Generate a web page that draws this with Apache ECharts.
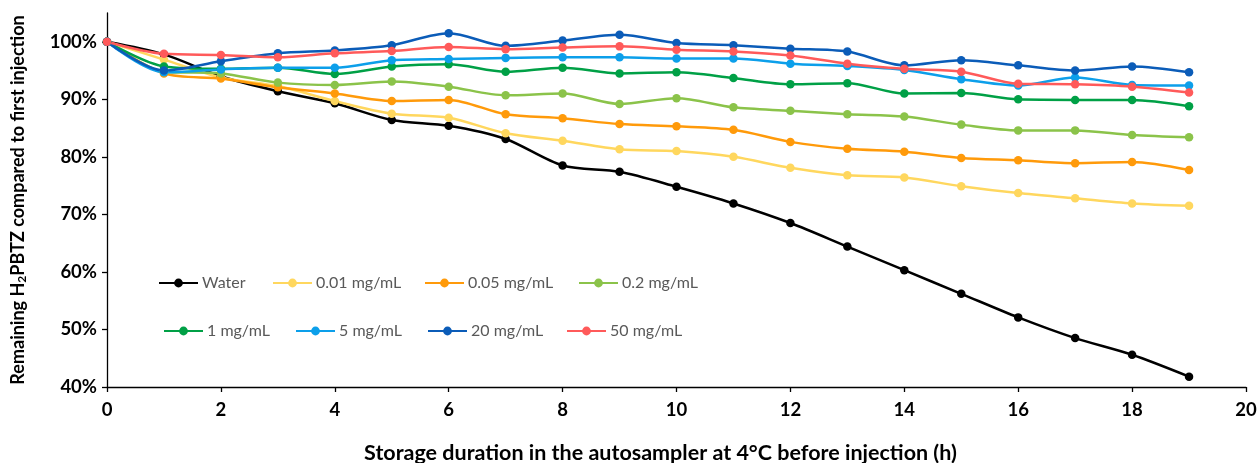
<!DOCTYPE html>
<html>
<head>
<meta charset="utf-8">
<title>H2PBTZ stability</title>
<script src="https://cdn.jsdelivr.net/npm/echarts@6/dist/echarts.min.js"></script>
<style>
  html, body { margin: 0; padding: 0; background: #fff; }
  #chart { width: 1258px; height: 463px; }
</style>
</head>
<body>
<div id="chart"></div>
<script>
// storage time (h)
const hours = [0, 1, 2, 3, 4, 5, 6, 7, 8, 9, 10, 11, 12, 13, 14, 15, 16, 17, 18, 19]

// remaining H2PBTZ (%) per matrix
const water = [100, 97.8, 94.0, 91.4, 89.3, 86.4, 85.4, 83.1, 78.5, 77.4, 74.8, 71.9, 68.5, 64.4, 60.3, 56.2, 52.1, 48.5, 45.6, 41.8]
const c001 = [100, 96.9, 93.8, 92.3, 89.7, 87.5, 86.8, 84.1, 82.8, 81.3, 81.0, 80.0, 78.1, 76.8, 76.4, 74.9, 73.7, 72.8, 71.9, 71.5]
const c005 = [100, 94.5, 93.6, 92.1, 91.0, 89.7, 89.9, 87.4, 86.7, 85.7, 85.3, 84.7, 82.6, 81.4, 80.9, 79.8, 79.4, 78.9, 79.1, 77.7]
const c02 = [100, 94.8, 94.5, 92.9, 92.5, 93.1, 92.2, 90.7, 91.0, 89.2, 90.2, 88.6, 88.0, 87.4, 87.0, 85.6, 84.6, 84.6, 83.8, 83.4]
const c1 = [100, 95.7, 95.3, 95.5, 94.4, 95.7, 96.1, 94.8, 95.5, 94.5, 94.7, 93.7, 92.6, 92.8, 91.0, 91.1, 90.0, 89.9, 89.9, 88.8]
const c5 = [100, 94.7, 95.2, 95.5, 95.5, 96.8, 97.0, 97.2, 97.3, 97.3, 97.1, 97.1, 96.2, 95.8, 95.1, 93.5, 92.4, 93.8, 92.5, 92.4]
const c20 = [100, 95.0, 96.6, 98.0, 98.5, 99.4, 101.5, 99.3, 100.2, 101.2, 99.8, 99.4, 98.8, 98.3, 95.9, 96.8, 95.9, 95.0, 95.7, 94.7]
const c50 = [100, 97.9, 97.7, 97.3, 98.0, 98.4, 99.1, 98.7, 99.0, 99.2, 98.6, 98.3, 97.6, 96.2, 95.3, 94.8, 92.7, 92.6, 92.2, 91.2]

const seriesNames = ['Water', '0.01 mg/mL', '0.05 mg/mL', '0.2 mg/mL', '1 mg/mL', '5 mg/mL', '20 mg/mL', '50 mg/mL']
const seriesValues = [water, c001, c005, c02, c1, c5, c20, c50]

// y tick labels (%)
const yTicks = [40, 50, 60, 70, 80, 90, 100]

const colors = ['#000000', '#FFD75E', '#FF9A0A', '#8BC34A', '#00A046', '#0C9FEA', '#0B5CB8', '#FF5A5A']

// legend sits inside the plot, two rows
const legendSpots = [
  [158, 275], [272, 275], [424, 275], [578, 275],
  [163, 323], [295, 323], [427, 323], [566, 323]
]

const chart = echarts.init(document.getElementById('chart'), null, { renderer: 'canvas' })

const font = 'Lato, "Open Sans", sans-serif'

chart.setOption({
  animation: false,
  color: colors,
  grid: {
    left: 107,
    right: 12,
    top: 13,
    bottom: 76,
    outerBoundsMode: 'none'
  },
  legend: seriesNames.map((name, i) => ({
    data: [name],
    left: legendSpots[i][0],
    top: legendSpots[i][1],
    padding: 0,
    itemWidth: 39,
    itemHeight: 11,
    textStyle: {
      fontFamily: font,
      fontSize: 16,
      color: '#595959',
      padding: [0, 0, 0, -1]
    }
  })),
  xAxis: {
    type: 'value',
    min: 0,
    max: 20,
    interval: 2,
    name: 'Storage duration in the autosampler at 4°C before injection (h)',
    nameLocation: 'middle',
    nameGap: 55,
    nameTextStyle: {
      fontFamily: font,
      fontSize: 21.5,
      fontWeight: 'bold',
      color: '#000',
      padding: [0, 32, 0, 0]
    },
    splitLine: { show: false },
    axisLine: { lineStyle: { color: '#000', width: 1.3 } },
    axisTick: { length: 5, lineStyle: { color: '#000', width: 1.3 } },
    axisLabel: {
      margin: 14,
      fontFamily: font,
      fontSize: 18.5,
      fontWeight: 'bold',
      color: '#000'
    }
  },
  yAxis: {
    type: 'value',
    min: 40,
    max: 105,
    name: 'Remaining H{sub|2}PBTZ compared to first injection',
    nameLocation: 'middle',
    nameGap: 79,
    nameTextStyle: {
      fontFamily: font,
      fontSize: 18,
      fontWeight: 'bold',
      color: '#000',
      rich: {
        sub: {
          fontFamily: font,
          fontSize: 12,
          fontWeight: 'bold',
          color: '#000',
          verticalAlign: 'bottom',
          padding: [7, 0, 0, 0]
        }
      }
    },
    splitLine: { show: false },
    axisLine: { show: true, lineStyle: { color: '#000', width: 1.3 } },
    axisTick: { show: true, length: 5, customValues: yTicks, lineStyle: { color: '#000', width: 1.3 } },
    axisLabel: {
      customValues: yTicks,
      margin: 10,
      fontFamily: font,
      fontSize: 18.5,
      fontWeight: 'bold',
      color: '#000',
      formatter: v => v + '%'
    }
  },
  series: seriesNames.map((name, i) => ({
    name: name,
    type: 'line',
    smooth: 0.3,
    symbol: 'circle',
    symbolSize: 8.5,
    showSymbol: true,
    lineStyle: { width: 2.5 },
    data: hours.map((h, j) => [h, seriesValues[i][j]])
  }))
})
</script>
</body>
</html>
